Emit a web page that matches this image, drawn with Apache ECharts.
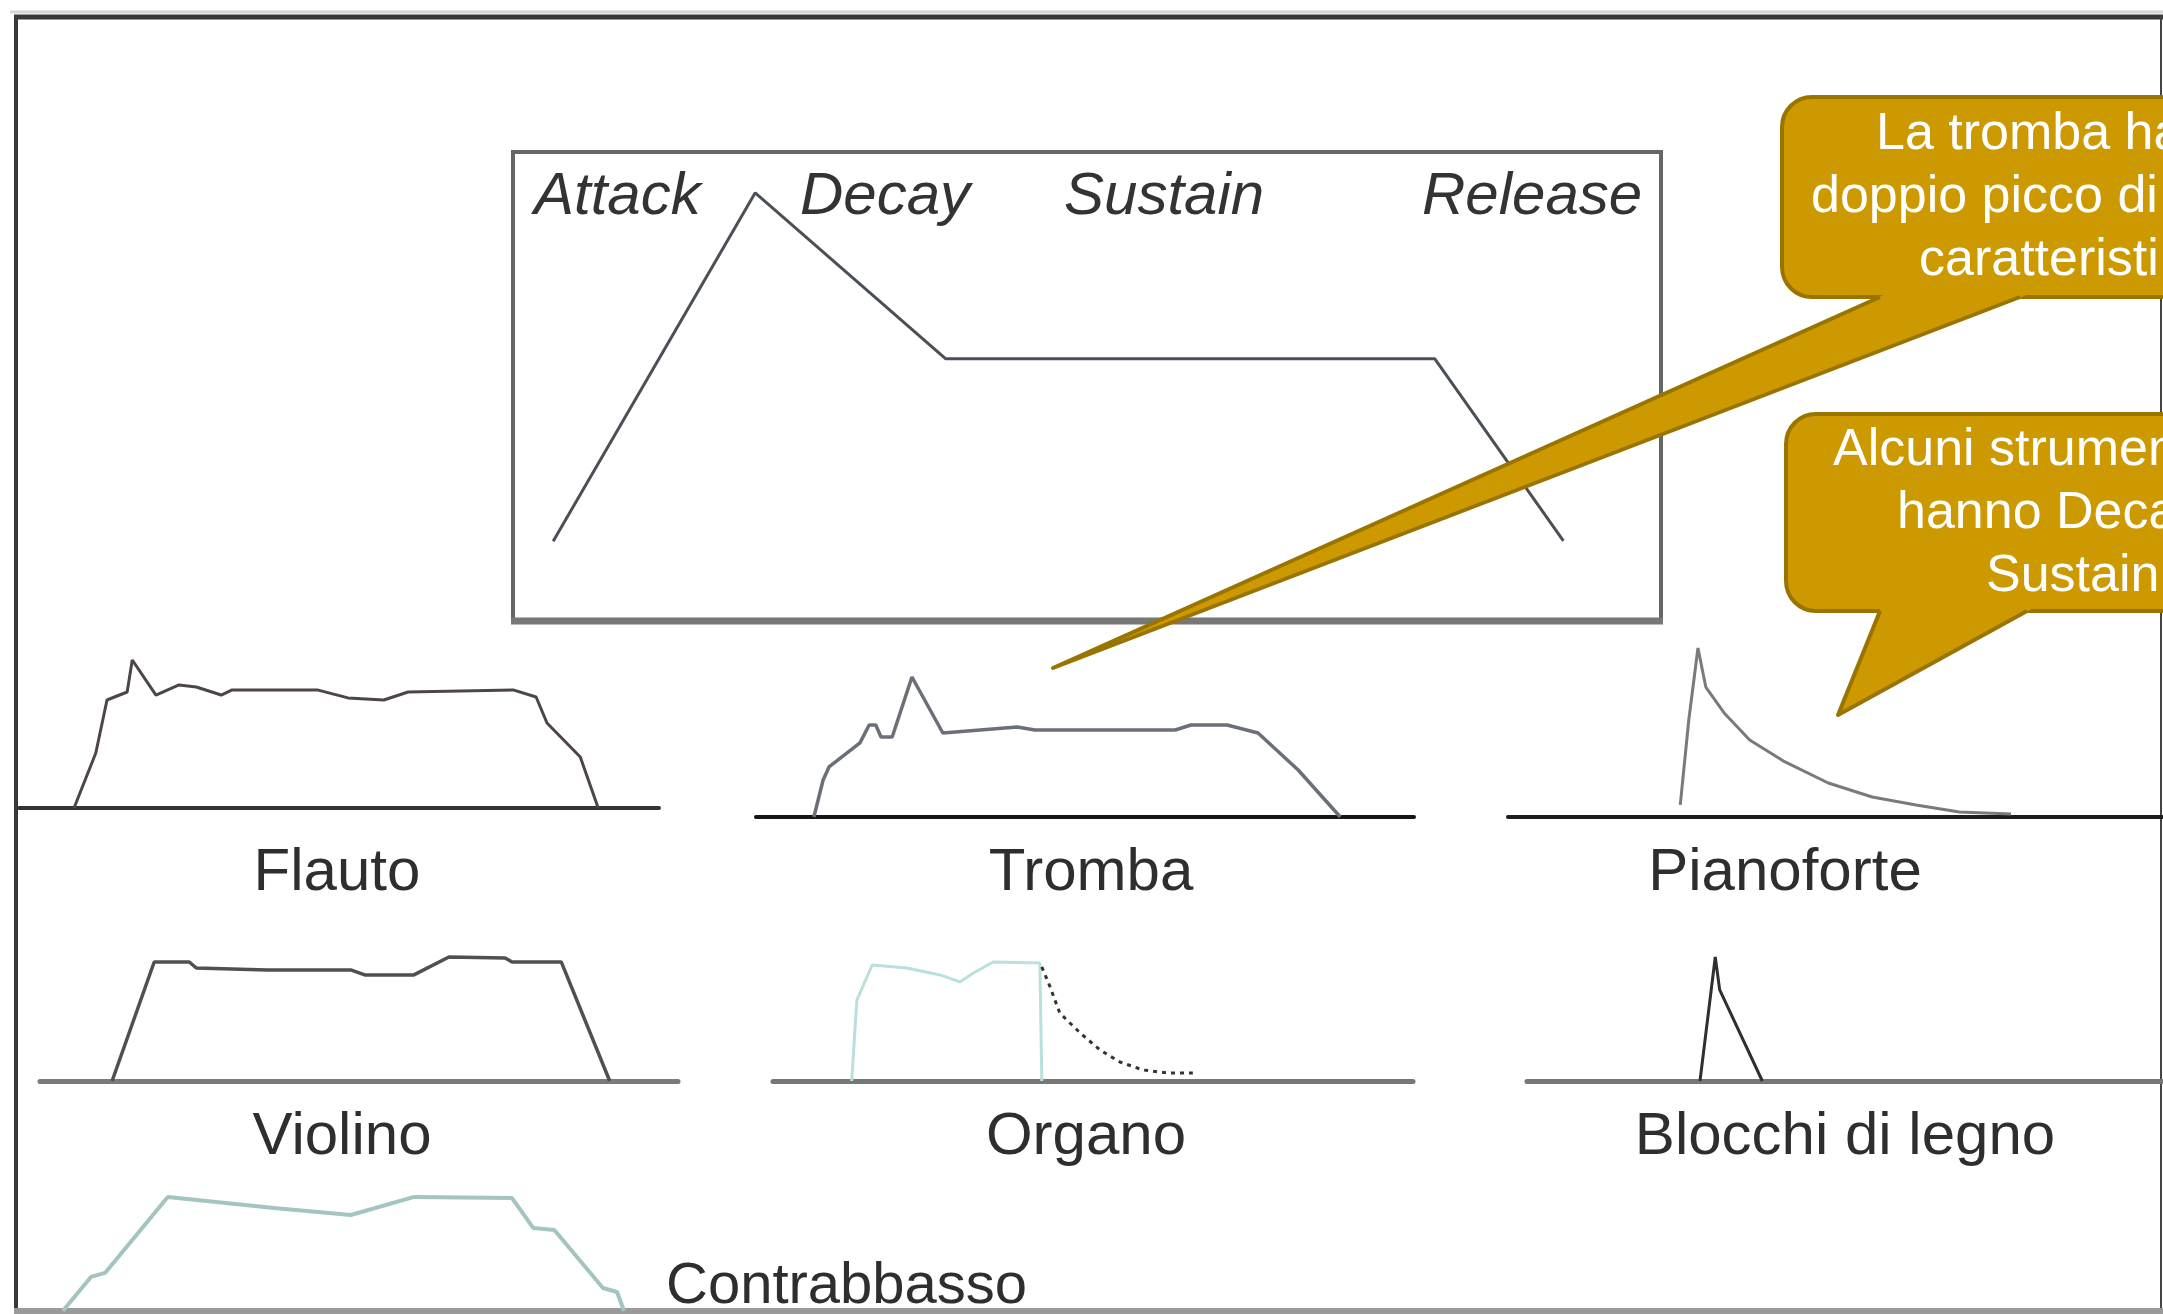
<!DOCTYPE html>
<html>
<head>
<meta charset="utf-8">
<script src="https://cdn.jsdelivr.net/npm/echarts@6/dist/echarts.min.js"></script>
<style>
html, body { margin: 0; padding: 0; background: #fff; }
#main { width: 2163px; height: 1314px; }
</style>
</head>
<body>
<div id="main"></div>
<script>
// envelopes: [time 0-100 along the baseline, amplitude 0-100]
var adsr = [[3.5, 17], [21.1, 91.3], [37.7, 55.9], [80.3, 55.9], [91.5, 17.1]];
var adsrLabels = ['Attack', 'Decay', 'Sustain', 'Release'];

var flauto = [[8.6, 0], [12, 34.4], [13.75, 67.5], [16.9, 72.5], [17.7, 92.5], [21.4, 70.6], [25, 76.9],
  [27.7, 75.6], [31.6, 70.6], [33.3, 73.8], [46.6, 73.8], [51.4, 68.8], [57, 67.5], [60.8, 72.5],
  [77.2, 73.8], [80.8, 69.4], [82.5, 53.1], [87.7, 31.9], [90.5, 0]];
var tromba = [[8.8, 0], [10.2, 23.1], [11.1, 31.3], [15.8, 46.3], [17.2, 57.5], [18.2, 57.5], [19, 50],
  [20.7, 50], [23.7, 87.5], [28.4, 52.5], [39.7, 56.3], [42.4, 54.4], [63.7, 54.4], [66.1, 57.5],
  [71.6, 57.5], [76.3, 52.5], [82.4, 29.4], [88.8, 0]];
var pianoforte = [[26.3, 6.7], [27.6, 53.9], [29, 93.9], [30.2, 72.2], [33, 57.8], [36.9, 42.8],
  [42.3, 30.6], [48.9, 18.9], [55.6, 11.1], [62.3, 6.7], [68.9, 2.8], [76.8, 1.7]];
var violino = [[11.3, 0], [17.9, 74.4], [23.4, 74.4], [24.5, 70.6], [35.6, 69.4], [48.7, 69.4],
  [50.9, 66.3], [58.6, 66.3], [64.1, 77.5], [72.9, 76.9], [74, 74.4], [81.7, 74.4], [89.3, 0]];
var organo = [[12.3, 0], [13.1, 50.6], [15.5, 72.5], [20.9, 70.6], [26.1, 66.3], [29.2, 61.9],
  [31.3, 67.5], [34.4, 74.4], [41.7, 73.8], [42, 0]];
var organoRelease = [[42, 71.3], [43.3, 58.8], [44.8, 42.5], [48, 30], [51.1, 19.4], [54.2, 11.9],
  [57.8, 6.9], [61.6, 5], [65.6, 5]];
var blocchi = [[27.2, 0], [29.6, 77.5], [30.3, 56.9], [37, 0]];
var contrabbasso = [[7, 0], [11.4, 21.3], [13.6, 23.8], [23.4, 71.3], [40, 64.4], [52, 60],
  [61.9, 71.3], [77.2, 70.6], [80.5, 51.9], [83.8, 50.6], [91.4, 14.4], [93.6, 11.9], [94.7, 0]];

var instruments = ['Flauto', 'Tromba', 'Pianoforte', 'Violino', 'Organo', 'Blocchi di legno', 'Contrabbasso'];
var notes = [['La tromba ha', 'doppio picco di', 'caratteristi'], ['Alcuni strumen', 'hanno Deca', 'Sustain']];

var panels = [
  { box: [513, 152, 1148, 469], frame: true, lines: [{ data: adsr, color: '#4b5058', width: 3 }] },
  { box: [19, 648, 640, 160], base: '#333', lines: [{ data: flauto, color: '#4d4549', width: 3 }] },
  { box: [756, 657, 658, 160], base: '#151515', lines: [{ data: tromba, color: '#6b7078', width: 3.5 }] },
  { box: [1508, 637, 655, 180], base: '#1c1c1c', lines: [{ data: pianoforte, color: '#7a7a7a', width: 3 }] },
  { box: [40, 921, 638, 160], base: '#7a7a7a', lines: [{ data: violino, color: '#505050', width: 3.5 }] },
  { box: [773, 921, 640, 160], base: '#777', lines: [
      { data: organo, color: '#b9e0dc', width: 3 },
      { data: organoRelease, color: '#333', width: 3, type: [4, 5] }] },
  { box: [1527, 921, 636, 160], base: '#777', lines: [{ data: blocchi, color: '#2f2f2f', width: 3 }] },
  { box: [18, 1151, 640, 160], lines: [{ data: contrabbasso, color: '#a3c4c0', width: 4 }] }
];

var grids = [], xAxes = [], yAxes = [], series = [];
panels.forEach(function (p, i) {
  grids.push({
    left: p.box[0], top: p.box[1], width: p.box[2], height: p.box[3],
    show: !!p.frame, borderColor: '#666', borderWidth: 4, backgroundColor: 'transparent'
  });
  xAxes.push({
    gridIndex: i, type: 'value', min: 0, max: 100,
    axisLine: { show: !!p.base, onZero: false, lineStyle: { color: p.base || '#000', width: i > 3 ? 5 : 4 } },
    axisTick: { show: false }, axisLabel: { show: false }, splitLine: { show: false }
  });
  yAxes.push({ gridIndex: i, type: 'value', min: 0, max: 100, show: false });
  p.lines.forEach(function (l) {
    series.push({
      type: 'line', xAxisIndex: i, yAxisIndex: i, data: l.data, symbol: 'none',
      clip: false, silent: true,
      lineStyle: { color: l.color, width: l.width, type: l.type || 'solid' }
    });
  });
});

function txt(s, x, y, font, color, align) {
  return {
    type: 'text', x: x, y: y, z: 10, silent: true,
    style: { text: s, font: font, fill: color, align: align, verticalAlign: 'middle',
      textAlign: align, textVerticalAlign: 'middle' }
  };
}

var label = '60px "Liberation Sans", Arial, sans-serif';
var adsrFont = 'italic 60px "Liberation Sans", Arial, sans-serif';
var noteFont = '52px "Liberation Sans", Arial, sans-serif';
var gold = '#cc9900', goldDark = '#9a7400';

// point on the line tip->base, pushed past the base up to height yy
function extend(tip, base, yy) {
  var s = (tip[1] - yy) / (tip[1] - base[1]);
  return [tip[0] + s * (base[0] - tip[0]), tip[1] + s * (base[1] - tip[1])];
}

function callout(x, y, h, tail, lines, starts, ys) {
  var b1 = [tail[0], y + h], b2 = [tail[2], y + h], tip = tail[1];
  var els = [
    { type: 'rect', z: 100, silent: true, shape: { x: x, y: y, width: 700, height: h, r: 30 },
      style: { fill: gold, stroke: goldDark, lineWidth: 4 } },
    { type: 'polygon', z: 101, silent: true,
      shape: { points: [extend(tip, b1, y + h - 8), tip, extend(tip, b2, y + h - 8)] },
      style: { fill: gold, stroke: gold, lineWidth: 1 } },
    { type: 'polyline', z: 102, silent: true,
      shape: { points: [b1, tip, b2] },
      style: { stroke: goldDark, lineWidth: 4, fill: null, lineJoin: 'round' } }
  ];
  lines.forEach(function (s, k) {
    var t = txt(s, starts[k], ys[k], noteFont, '#fff', 'left');
    t.z = 103;
    els.push(t);
  });
  return els;
}

var graphics = [
  // outer frame
  { type: 'line', z: 0, shape: { x1: 10, y1: 12, x2: 2163, y2: 12 }, style: { stroke: '#d6d6d6', lineWidth: 3 } },
  { type: 'line', z: 0, shape: { x1: 14, y1: 17, x2: 2163, y2: 17 }, style: { stroke: '#383838', lineWidth: 5 } },
  { type: 'line', z: 0, shape: { x1: 16, y1: 15, x2: 16, y2: 1314 }, style: { stroke: '#383838', lineWidth: 4 } },
  { type: 'line', z: 0, shape: { x1: 2161, y1: 15, x2: 2161, y2: 1314 }, style: { stroke: '#444', lineWidth: 2 } },
  { type: 'line', z: 0, shape: { x1: 14, y1: 1311, x2: 2163, y2: 1311 }, style: { stroke: '#9a9a9a', lineWidth: 6 } },
  // heavier bottom edge of the ADSR box
  { type: 'line', z: 5, shape: { x1: 511, y1: 621, x2: 1663, y2: 621 }, style: { stroke: '#777', lineWidth: 7 } }
];

var adsrX = [534, 800, 1064, 1422];
adsrLabels.forEach(function (s, k) {
  graphics.push(txt(s, adsrX[k], 197, adsrFont, '#333', 'left'));
});

var labelPos = [[337, 873], [1091, 873], [1785, 873], [342, 1137], [1086, 1137], [1845, 1137]];
labelPos.forEach(function (p, k) {
  graphics.push(txt(instruments[k], p[0], p[1], label, '#2e2e2e', 'center'));
});
graphics.push(txt(instruments[6], 666, 1287, '58px "Liberation Sans", Arial, sans-serif', '#2e2e2e', 'left'));

graphics = graphics.concat(
  callout(1782, 97, 200, [1880, [1053, 668], 2020], notes[0], [1876, 1811, 1919], [135, 198, 261]),
  callout(1786, 414, 197, [1880, [1838, 715], 2027], notes[1], [1833, 1897, 1986], [451, 514, 577])
);

var chart = echarts.init(document.getElementById('main'));
chart.setOption({
  backgroundColor: '#fff',
  animation: false,
  grid: grids,
  xAxis: xAxes,
  yAxis: yAxes,
  series: series,
  graphic: graphics
});
</script>
</body>
</html>
